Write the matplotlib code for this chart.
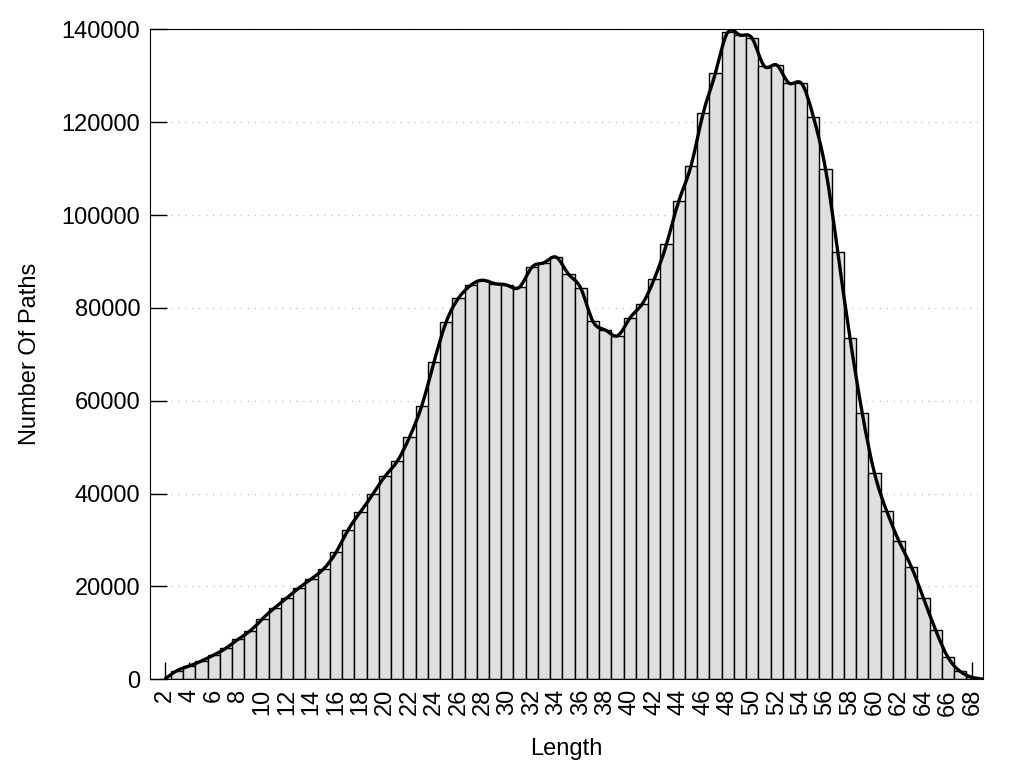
import numpy as np
import matplotlib
matplotlib.use('Agg')
import matplotlib.pyplot as plt
from matplotlib.path import Path
from matplotlib.patches import PathPatch

plt.rcParams['font.family'] = ['Liberation Sans', 'DejaVu Sans']

# path length -> number of paths
lengths = list(range(2, 70))
counts = [0, 1850, 2870, 3940, 5230, 6680, 8620, 10470, 13050, 15420,
          17580, 19730, 21670, 23820, 27360, 32220, 36100, 39850, 43730, 46960,
          52130, 58870, 68280, 76960, 82070, 84870, 85950, 85210, 84870, 84500,
          88750, 89740, 90900, 87240, 84220, 77070, 75240, 74010, 77760, 80780,
          86230, 93700, 102960, 110570, 121920, 130600, 139360, 138780, 138070, 132040,
          132320, 128440, 128440, 121180, 109850, 91980, 73450, 57300, 44370, 36190,
          29730, 24250, 17450, 10560, 4740, 1700, 400, 0]
xtick_labels = [str(v) for v in range(2, 70, 2)]
yticks = [0, 20000, 40000, 60000, 80000, 100000, 120000, 140000]


def spline_path(x, y):
    # natural cubic spline through the points, drawn as bezier segments
    x = np.asarray(x, float)
    y = np.asarray(y, float)
    n = len(x)
    h = np.diff(x)
    A = np.zeros((n, n))
    b = np.zeros(n)
    A[0, 0] = 1
    A[-1, -1] = 1
    for i in range(1, n - 1):
        A[i, i - 1] = h[i - 1]
        A[i, i] = 2 * (h[i - 1] + h[i])
        A[i, i + 1] = h[i]
        b[i] = 6 * ((y[i + 1] - y[i]) / h[i] - (y[i] - y[i - 1]) / h[i - 1])
    M = np.linalg.solve(A, b)
    verts = [(x[0], y[0])]
    codes = [Path.MOVETO]
    for i in range(n - 1):
        hi = h[i]
        d0 = (y[i + 1] - y[i]) / hi - hi * (2 * M[i] + M[i + 1]) / 6
        d1 = (y[i + 1] - y[i]) / hi + hi * (M[i] + 2 * M[i + 1]) / 6
        verts += [(x[i] + hi / 3, y[i] + hi * d0 / 3),
                  (x[i + 1] - hi / 3, y[i + 1] - hi * d1 / 3),
                  (x[i + 1], y[i + 1])]
        codes += [Path.CURVE4] * 3
    return Path(verts, codes)


fig = plt.figure(figsize=(10.24, 7.68), dpi=100)
ax = fig.add_axes([0.1465, 0.1155, 0.8139, 0.8463])

ax.bar(lengths, counts, width=1.0, color='#dfdfdf', edgecolor='black',
       linewidth=1.0, zorder=2)
ax.add_patch(PathPatch(spline_path(lengths, counts), facecolor='none',
                       edgecolor='black', linewidth=2.4, zorder=3))

ax.set_xlim(0.8, 68.9)
ax.set_ylim(0, 140000)
ax.set_xticks(range(2, 70, 2))
ax.set_xticklabels(xtick_labels, rotation=90)
ax.set_yticks(yticks)
ax.set_yticklabels([str(v) for v in yticks])
ax.tick_params(direction='in', length=12, width=1, labelsize=17, pad=7)
ax.set_axisbelow(True)
ax.yaxis.grid(True, linestyle=(0, (1, 4)), color='#c8c8c8', linewidth=1)

ax.set_xlabel('Length', fontsize=17, labelpad=16)
ax.set_ylabel('Number Of Paths', fontsize=17, labelpad=15)

fig.savefig('out.png', dpi=100)
